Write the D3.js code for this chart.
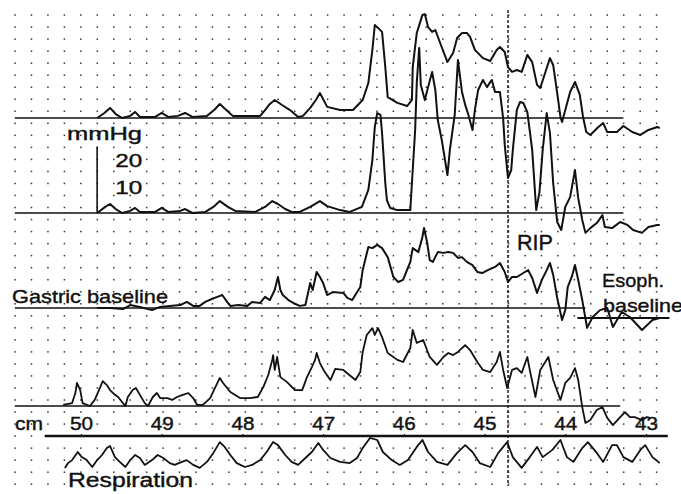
<!DOCTYPE html>
<html>
<head>
<meta charset="utf-8">
<script src="https://cdn.jsdelivr.net/npm/d3@7"></script>
<style>
  html, body { margin: 0; padding: 0; background: #fff; }
  svg { display: block; }
  text { font-family: "Liberation Sans", Arial, Helvetica, sans-serif; fill: #111; stroke: #111; stroke-width: 0.4px; }
</style>
</head>
<body>
<svg id="chart" width="681" height="494"></svg>
<script>
// Catheter station (cm from nares) printed along the pull-through axis
const stations = [50, 49, 48, 47, 46, 45, 44, 43];
// Respiratory inversion point (cm)
const ripCm = 44.71;

// Pressure channels: [cm, mmHg above the channel baseline]
const channel1 = [
  [49.80,0],[49.71,1.9],[49.64,3.8],[49.57,1.5],[49.49,0],[49.39,0.8],[49.33,2.3],[49.27,0.4],
  [49.08,0.4],[49.00,1.9],[48.92,0.4],[48.80,0.8],[48.71,1.9],[48.62,0.4],[48.44,0.8],[48.35,3.0],
  [48.28,5.3],[48.20,3.0],[48.12,0.8],[47.78,0.8],[47.72,3.0],[47.66,5.3],[47.60,6.8],[47.51,4.9],
  [47.41,3.0],[47.31,0.4],[47.25,0.8],[47.16,3.8],[47.09,6.8],[47.04,9.4],[46.95,4.2],[46.79,3.0],
  [46.63,3.0],[46.51,6.8],[46.44,13.2],[46.39,25.7],[46.36,35.1],[46.32,34.0],[46.27,32.5],[46.23,19.2],
  [46.20,7.9],[46.08,5.7],[45.96,4.5],[45.90,6.8],[45.89,19.2],[45.84,32.1],[45.77,38.9],[45.74,39.2],
  [45.70,34.3],[45.65,32.5],[45.61,33.2],[45.55,28.3],[45.46,21.1],[45.39,24.5],[45.34,30.2],[45.28,32.1],
  [45.22,32.1],[45.18,30.6],[45.12,25.7],[45.02,22.6],[44.93,21.5],[44.85,25.7],[44.81,26.8],[44.75,24.9],
  [44.71,19.2],[44.66,17.4],[44.60,18.1],[44.54,17.4],[44.47,23.8],[44.41,21.1],[44.35,12.5],[44.31,11.3],
  [44.25,17.0],[44.19,22.6],[44.15,20.0],[44.10,9.4],[44.06,0.4],[44.04,-1.5],[44.00,3.0],[43.94,9.8],
  [43.88,13.6],[43.82,8.7],[43.78,0.4],[43.74,-5.3],[43.69,-6.4],[43.59,-3.4],[43.53,-1.9],[43.48,-5.3],
  [43.36,-5.3],[43.28,-3.0],[43.17,-5.3],[43.07,-6.4],[42.97,-4.5],[42.86,-3.4],[42.83,-3.8]
];

const channel2 = [
  [49.80,0],[49.70,2.3],[49.64,3.4],[49.57,1.5],[49.49,0],[49.39,0.8],[49.33,1.9],[49.27,0.4],
  [49.08,0.4],[49.00,1.9],[48.92,0.4],[48.77,0.8],[48.71,1.5],[48.62,0],[48.46,0.4],[48.36,2.3],
  [48.28,4.5],[48.18,2.3],[48.09,0.8],[47.84,0.4],[47.72,2.3],[47.63,4.5],[47.56,3.4],[47.47,1.5],
  [47.39,0.4],[47.29,0.4],[47.16,2.3],[47.04,4.5],[46.95,2.6],[46.79,1.1],[46.67,0.4],[46.52,2.3],
  [46.44,8.7],[46.39,20.0],[46.36,32.5],[46.33,37.7],[46.29,37.0],[46.27,30.2],[46.23,11.3],[46.21,4.9],
  [46.17,1.9],[46.08,1.1],[45.92,1.1],[45.90,11.3],[45.86,31.3],[45.84,49.1],[45.81,62.3],[45.79,48.3],
  [45.74,42.6],[45.70,47.5],[45.65,53.2],[45.61,46.4],[45.58,35.1],[45.53,27.5],[45.49,20.0],[45.46,14.3],
  [45.43,23.8],[45.37,37.0],[45.33,57.7],[45.28,45.7],[45.24,40.8],[45.20,37.0],[45.15,31.3],[45.12,38.9],
  [45.08,46.4],[45.02,50.2],[44.97,47.5],[44.93,49.4],[44.91,50.2],[44.87,45.7],[44.81,45.7],[44.77,35.8],
  [44.75,25.7],[44.71,13.2],[44.67,16.2],[44.65,23.8],[44.60,38.9],[44.56,41.9],[44.52,41.5],[44.47,38.1],
  [44.41,23.8],[44.36,1.1],[44.32,7.9],[44.28,23.8],[44.23,37.7],[44.19,30.2],[44.15,11.3],[44.10,-3.4],
  [44.05,-6.4],[44.00,2.3],[43.94,6.0],[43.88,16.2],[43.84,5.7],[43.79,-2.6],[43.75,-7.5],[43.69,-5.7],
  [43.61,-3.8],[43.54,-0.8],[43.51,-5.3],[43.42,-5.7],[43.32,-3.4],[43.23,-4.5],[43.16,-6.4],[43.05,-7.5],
  [42.97,-5.3],[42.86,-4.5],[42.83,-4.5]
];

const channel3 = [
  [49.80,0],[49.64,0],[49.48,-0.4],[49.39,1.1],[49.27,0.4],[49.12,-0.8],[49.02,0.4],[48.90,0.8],
  [48.77,1.1],[48.69,2.3],[48.61,0.8],[48.53,0.8],[48.46,2.3],[48.38,3.4],[48.31,4.2],[48.25,4.9],
  [48.19,2.3],[48.15,0.8],[48.05,1.1],[47.94,0.8],[47.88,2.3],[47.78,1.9],[47.72,4.2],[47.66,3.0],
  [47.60,6.8],[47.56,11.7],[47.53,6.8],[47.50,4.9],[47.43,3.0],[47.37,1.9],[47.29,0.8],[47.22,1.1],
  [47.16,9.4],[47.13,6.8],[47.08,13.6],[47.04,11.7],[47.00,9.4],[46.95,4.9],[46.88,6.0],[46.75,5.7],
  [46.70,3.8],[46.64,3.0],[46.54,7.9],[46.51,14.3],[46.44,23.0],[46.39,22.6],[46.33,23.8],[46.27,22.6],
  [46.20,19.2],[46.13,11.7],[46.07,9.8],[46.01,10.6],[45.92,17.4],[45.89,22.6],[45.82,21.1],[45.77,26.8],
  [45.75,30.2],[45.71,24.5],[45.68,18.1],[45.64,17.4],[45.58,21.1],[45.51,20.8],[45.45,21.1],[45.39,20.8],
  [45.33,18.9],[45.28,19.2],[45.22,17.4],[45.15,16.2],[45.09,13.6],[45.03,13.2],[44.96,14.3],[44.87,15.5],
  [44.81,17.0],[44.75,13.6],[44.71,9.8],[44.66,11.7],[44.60,11.7],[44.52,13.2],[44.46,14.3],[44.41,11.3],
  [44.35,5.7],[44.29,10.6],[44.23,14.3],[44.19,17.0],[44.15,12.5],[44.10,3.8],[44.04,-4.5],[44.00,-0.8],
  [43.97,7.9],[43.92,11.7],[43.88,16.2],[43.84,10.6],[43.79,3.0],[43.73,-7.5],[43.66,-3.4],[43.57,-0.8],
  [43.48,0],[43.41,-7.2],[43.30,-1.5],[43.20,-3.4],[43.05,-8.3],[42.92,-4.5],[42.83,-3.8]
];

const channel4 = [
  [50.22,0.4],[50.11,1.1],[50.07,4.9],[50.05,8.7],[50.01,6.0],[49.98,1.1],[49.89,0],[49.83,2.3],
  [49.76,7.2],[49.73,9.4],[49.68,7.9],[49.64,6.0],[49.58,4.2],[49.54,3.4],[49.48,1.1],[49.45,0],
  [49.42,3.4],[49.36,6.0],[49.32,6.8],[49.27,4.2],[49.21,1.1],[49.17,0],[49.11,3.4],[49.06,4.9],
  [49.02,3.0],[48.93,3.0],[48.87,2.3],[48.81,3.4],[48.74,4.2],[48.67,4.9],[48.61,3.0],[48.56,0.4],
  [48.49,0.4],[48.40,3.0],[48.31,8.7],[48.28,10.6],[48.24,8.7],[48.15,5.3],[48.03,3.0],[47.91,3.0],
  [47.81,3.4],[47.74,7.2],[47.68,11.7],[47.63,17.4],[47.62,19.2],[47.60,13.6],[47.57,18.5],[47.53,10.9],
  [47.45,9.1],[47.35,6.0],[47.26,6.0],[47.20,10.9],[47.14,14.7],[47.10,17.4],[47.08,20.0],[47.04,16.2],
  [46.98,12.8],[46.91,9.8],[46.85,14.0],[46.75,13.6],[46.60,9.8],[46.54,12.8],[46.51,20.4],[46.46,26.8],
  [46.39,29.4],[46.36,26.8],[46.32,29.4],[46.27,26.0],[46.20,20.0],[46.08,17.4],[46.01,16.6],[45.92,21.9],
  [45.89,28.7],[45.84,23.8],[45.76,24.9],[45.68,18.5],[45.59,15.5],[45.51,18.5],[45.45,20.0],[45.39,19.2],
  [45.33,20.4],[45.24,23.0],[45.18,21.1],[45.09,16.6],[45.02,13.6],[44.93,12.8],[44.85,16.6],[44.81,20.4],
  [44.77,13.6],[44.72,6.8],[44.66,13.6],[44.60,14.3],[44.54,12.5],[44.47,18.5],[44.44,13.6],[44.37,3.4],
  [44.31,13.6],[44.21,18.5],[44.15,9.8],[44.06,2.3],[44.00,8.7],[43.94,10.6],[43.88,14.3],[43.84,9.8],
  [43.79,-0.4],[43.75,-6.4],[43.69,-5.3],[43.61,-1.5],[43.54,-0.4],[43.48,-4.5],[43.41,-7.2],[43.32,-4.2],
  [43.26,-2.3],[43.20,-4.2],[43.14,-4.2],[43.05,-5.3],[42.99,-4.2],[42.95,-4.5]
];

// Respiration (relative units)
const respiration = [
  [50.20,0.7],[50.16,2.3],[50.11,3.3],[50.04,6.0],[49.99,4.3],[49.93,3.3],[49.86,1.0],[49.80,3.3],
  [49.74,5.0],[49.68,7.3],[49.64,8.0],[49.58,4.3],[49.52,2.7],[49.45,1.0],[49.39,3.3],[49.33,5.0],
  [49.27,4.0],[49.21,1.7],[49.12,3.3],[49.05,5.0],[48.98,4.0],[48.90,2.3],[48.84,1.7],[48.75,2.7],
  [48.69,3.3],[48.61,1.7],[48.53,0.7],[48.44,2.7],[48.36,5.7],[48.28,9.3],[48.22,7.7],[48.15,5.0],
  [48.07,2.3],[47.97,1.0],[47.88,1.7],[47.78,3.3],[47.70,6.0],[47.62,9.3],[47.56,8.3],[47.47,5.0],
  [47.39,2.7],[47.31,1.7],[47.22,4.0],[47.14,6.0],[47.06,9.0],[47.00,6.7],[46.91,4.0],[46.79,2.7],
  [46.67,2.3],[46.58,4.0],[46.51,7.3],[46.42,10.7],[46.33,10.0],[46.26,6.0],[46.15,3.3],[46.05,1.7],
  [45.95,3.3],[45.84,7.7],[45.77,10.0],[45.70,6.0],[45.59,2.7],[45.46,1.7],[45.34,5.7],[45.24,8.3],
  [45.15,6.0],[45.06,2.3],[44.93,1.0],[44.83,5.7],[44.72,9.3],[44.65,4.3],[44.54,0.7],[44.44,4.3],
  [44.35,7.7],[44.28,4.3],[44.16,6.7],[44.06,10.0],[43.98,4.3],[43.90,2.7],[43.79,7.3],[43.72,9.3],
  [43.61,5.7],[43.53,2.7],[43.42,8.3],[43.36,8.3],[43.28,4.3],[43.17,2.7],[43.07,6.7],[43.01,8.3],
  [42.92,4.3],[42.83,2.3]
];

// Extent (cm) of each drawn baseline
const baseline1Extent = [50.82, 43.28];
const baseline2Extent = [50.82, 43.28];
const gastricExtent = [50.82, 43.75];
const esophExtent = [43.85, 42.71];
const esophLevel = -3.8;           // mmHg relative to gastric baseline
const baseline4Extent = [50.82, 43.32];
const cmAxisExtent = [50.45, 42.73];
const calibration = [0, 25];       // mmHg scale bar
const calibrationTicks = [20, 10];

const svg = d3.select("#chart");
const ink = "#111";

const x = d3.scaleLinear().domain([50, 43]).range([81, 646]);
const pxPerMmHg = 2.65;
function channelScale(base) {
  return d3.scaleLinear().domain([0, 25]).range([base, base - 25 * pxPerMmHg]);
}
const y1 = channelScale(118);
const y2 = channelScale(213);
const y3 = channelScale(308);
const y4 = channelScale(406);
const yResp = d3.scaleLinear().domain([0, 10]).range([470, 440]);

// dotted recorder-paper grid
const gridX = d3.range(40).map(i => 15 + i * 16.45);
const gridY = d3.range(40).map(j => 15 + j * 12.03);
const dots = svg.append("g").attr("fill", "#333");
gridY.forEach(gy => {
  gridX.forEach(gx => {
    dots.append("rect").attr("x", gx - 0.7).attr("y", gy - 0.7).attr("width", 1.5).attr("height", 1.5);
  });
});

// baselines
function hline(ext, yScale, level, width) {
  svg.append("line")
    .attr("x1", x(ext[0])).attr("x2", x(ext[1]))
    .attr("y1", yScale(level)).attr("y2", yScale(level))
    .attr("stroke", ink).attr("stroke-width", width);
}
hline(baseline1Extent, y1, 0, 1.7);
hline(baseline2Extent, y2, 0, 1.7);
hline(gastricExtent, y3, 0, 1.6);
hline(esophExtent, y3, esophLevel, 1.9);
hline(baseline4Extent, y4, 0, 1.7);

// RIP marker
svg.append("line")
  .attr("x1", x(ripCm)).attr("x2", x(ripCm))
  .attr("y1", 10).attr("y2", 486)
  .attr("stroke", ink).attr("stroke-width", 1.4)
  .attr("stroke-dasharray", "3,2");

// traces
function trace(data, yScale, width) {
  const line = d3.line().x(d => x(d[0])).y(d => yScale(d[1]));
  svg.append("path")
    .attr("d", line(data))
    .attr("fill", "none").attr("stroke", ink)
    .attr("stroke-width", width).attr("stroke-linejoin", "round");
}
trace(channel1, y1, 2.0);
trace(channel2, y2, 2.0);
trace(channel3, y3, 2.0);
trace(channel4, y4, 1.8);
trace(respiration, yResp, 1.8);

// cm axis
svg.append("line")
  .attr("x1", x(cmAxisExtent[0])).attr("x2", x(cmAxisExtent[1]))
  .attr("y1", 436).attr("y2", 436)
  .attr("stroke", ink).attr("stroke-width", 2.4);
const axis = d3.axisTop(x).tickValues(stations).tickFormat(d3.format("d")).tickSize(2).tickPadding(4);
const gAxis = svg.append("g").attr("transform", "translate(0,436)").call(axis);
gAxis.select(".domain").remove();
gAxis.selectAll(".tick line").attr("stroke", ink).attr("stroke-width", 1.2);
gAxis.selectAll(".tick text")
  .attr("font-size", 19).attr("fill", ink)
  .attr("font-family", "\"Liberation Sans\", Arial, sans-serif")
  .attr("textLength", 23).attr("lengthAdjust", "spacingAndGlyphs");

// mmHg calibration bar on channel 2
const calX = x(49.80);
svg.append("line")
  .attr("x1", calX).attr("x2", calX)
  .attr("y1", y2(calibration[0])).attr("y2", y2(calibration[1]))
  .attr("stroke", ink).attr("stroke-width", 1.6);
calibrationTicks.forEach(v => {
  svg.append("text").attr("x", calX + 18).attr("y", y2(v) + 7)
    .attr("font-size", 19).attr("textLength", 27).attr("lengthAdjust", "spacingAndGlyphs")
    .text(v);
});

function label(txt, lx, ly, size, len) {
  svg.append("text").attr("x", lx).attr("y", ly)
    .attr("font-size", size)
    .attr("textLength", len).attr("lengthAdjust", "spacingAndGlyphs")
    .text(txt);
}
label("mmHg", 67, 140, 19, 75);
label("RIP", 517, 250, 22, 36);
label("Gastric baseline", 12, 303, 19, 156);
label("Esoph.", 602, 287, 19, 62);
label("baseline", 603, 312, 19, 80);
label("cm", 15, 430, 19, 28);
label("Respiration", 68, 487, 20, 125);
</script>
</body>
</html>
